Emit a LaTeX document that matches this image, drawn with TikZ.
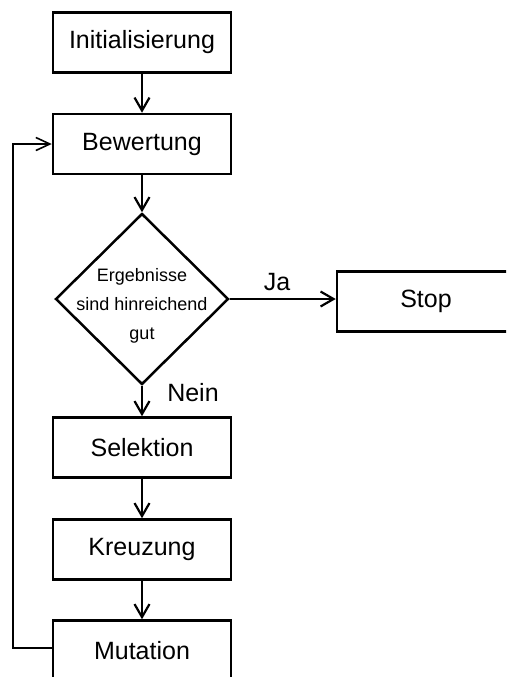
\documentclass[tikz,border=0pt]{standalone}
\usepackage{fontspec}
\setmainfont{Liberation Sans}
\usetikzlibrary{shapes.geometric,arrows.meta}
\begin{document}
\begin{tikzpicture}[x=1pt,y=-1pt,
  stepbox/.style={draw, line width=2.5pt, minimum width=178pt, minimum height=60pt,
    inner sep=0pt, font=\fontsize{25}{30}\selectfont},
  flow/.style={line width=2pt, -{Straight Barb[length=13pt,width=15pt,line width=2.2pt]}},
  loopback/.style={line width=1.3pt, -{Straight Barb[length=14pt,width=13pt,line width=1.6pt]}},
  lbl/.style={font=\fontsize{25}{30}\selectfont, inner sep=0pt}]
\useasboundingbox (0,0) rectangle (506,677);
\clip (0,0) rectangle (506,677);

% process steps
\node[stepbox] (init) at (142,42.5) {Initialisierung};
\node[stepbox] (bew)  at (142,144)  {Bewertung};
\node[diamond, draw, line width=2.5pt, minimum width=173pt, minimum height=171pt,
  inner sep=0pt] (dec) at (142,299) {};
\node[align=center, font=\fontsize{18}{29}\selectfont, inner sep=0pt] (dectext)
  at (142,306) {Ergebnisse\\sind hinreichend\\gut};
\node[stepbox] (stop) at (426,301.5) {Stop};
\node[stepbox] (sel)  at (142,447.5) {Selektion};
\node[stepbox] (kre)  at (142,549.5) {Kreuzung};
\node[stepbox] (mut)  at (142,650.5) {Mutation};

% connectors
\draw[flow] (init.south) -- (bew.north);
\draw[flow] (bew.south) -- (dec.north);
\draw[flow] (dec.east) -- (dec.east -| stop.west);
\draw[flow] (dec.south) -- (sel.north);
\draw[flow] (sel.south) -- (kre.north);
\draw[flow] (kre.south) -- (mut.north);

% loop back from mutation to evaluation
\coordinate (lb) at (13,648);
\draw[loopback] (mut.west |- lb) -- (lb) -- (lb |- bew.west) -- (bew.west);

% branch labels
\node[lbl] (ja) at (277,282) {Ja};
\node[lbl] (nein) at (193,393) {Nein};
\end{tikzpicture}
\end{document}
